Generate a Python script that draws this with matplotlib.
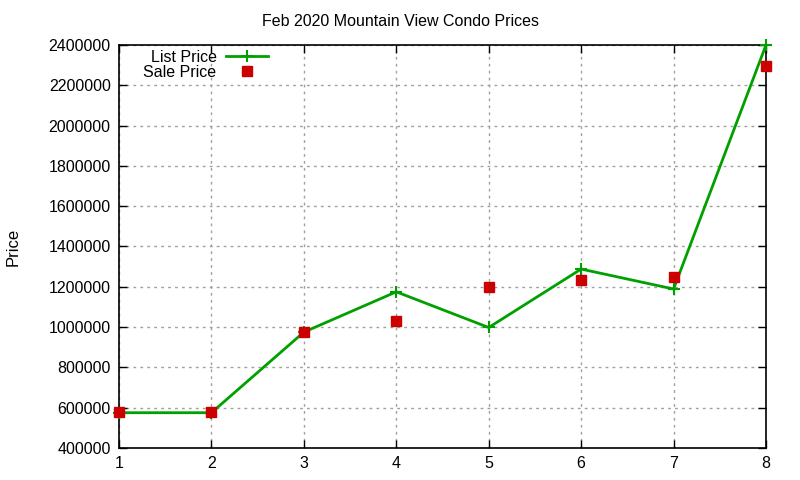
import matplotlib
matplotlib.use("Agg")
import matplotlib.pyplot as plt

# Feb 2020 Mountain View condo sales
sale_index = [1, 2, 3, 4, 5, 6, 7, 8]
list_price = [575000, 575000, 975000, 1175000, 998000, 1288000, 1189000, 2400000]
sale_price = [580000, 580000, 975000, 1028000, 1200000, 1232000, 1250000, 2298000]
y_ticks = list(range(400000, 2400001, 200000))

plt.rcParams['font.family'] = ['Liberation Sans', 'DejaVu Sans']
plt.rcParams['font.size'] = 11.5

fig = plt.figure(figsize=(8, 4.8), dpi=100)
ax = fig.add_axes([0.14875, 0.0667, 0.80875, 0.83955])

ax.plot(sale_index, list_price, color='#00a000', lw=2, marker='+',
        ms=9, mew=1.5, label='List Price', zorder=3, clip_on=False)
ax.plot(sale_index, sale_price, ls='none', color='#cc0000', marker='s',
        ms=7, label='Sale Price', zorder=4, clip_on=False)

ax.set_xlim(1, 8)
ax.set_ylim(400000, 2400000)
ax.set_xticks(sale_index)
ax.set_yticks(y_ticks)
ax.set_yticklabels([str(v) for v in y_ticks])

ax.grid(True, color='#a0a0a0', ls=(0, (2, 3)), lw=1)
ax.tick_params(direction='in', top=True, right=True, length=6, width=1,
               labelsize=11.5, colors='black', pad=6)
for s in ax.spines.values():
    s.set_linewidth(1.2)

fig.text(0.5, 0.956, 'Feb 2020 Mountain View Condo Prices', ha='center',
         va='center', fontsize=11.5)
fig.text(0.016, 0.485, 'Price', rotation=90, ha='center', va='center',
         fontsize=12)

ax.legend(loc='upper left', bbox_to_anchor=(0.023, 1.012), frameon=False,
          markerfirst=False, handlelength=2.6, labelspacing=0.0,
          handletextpad=0.6, fontsize=11.5, borderaxespad=0.2)

fig.savefig('out.png', dpi=100)
